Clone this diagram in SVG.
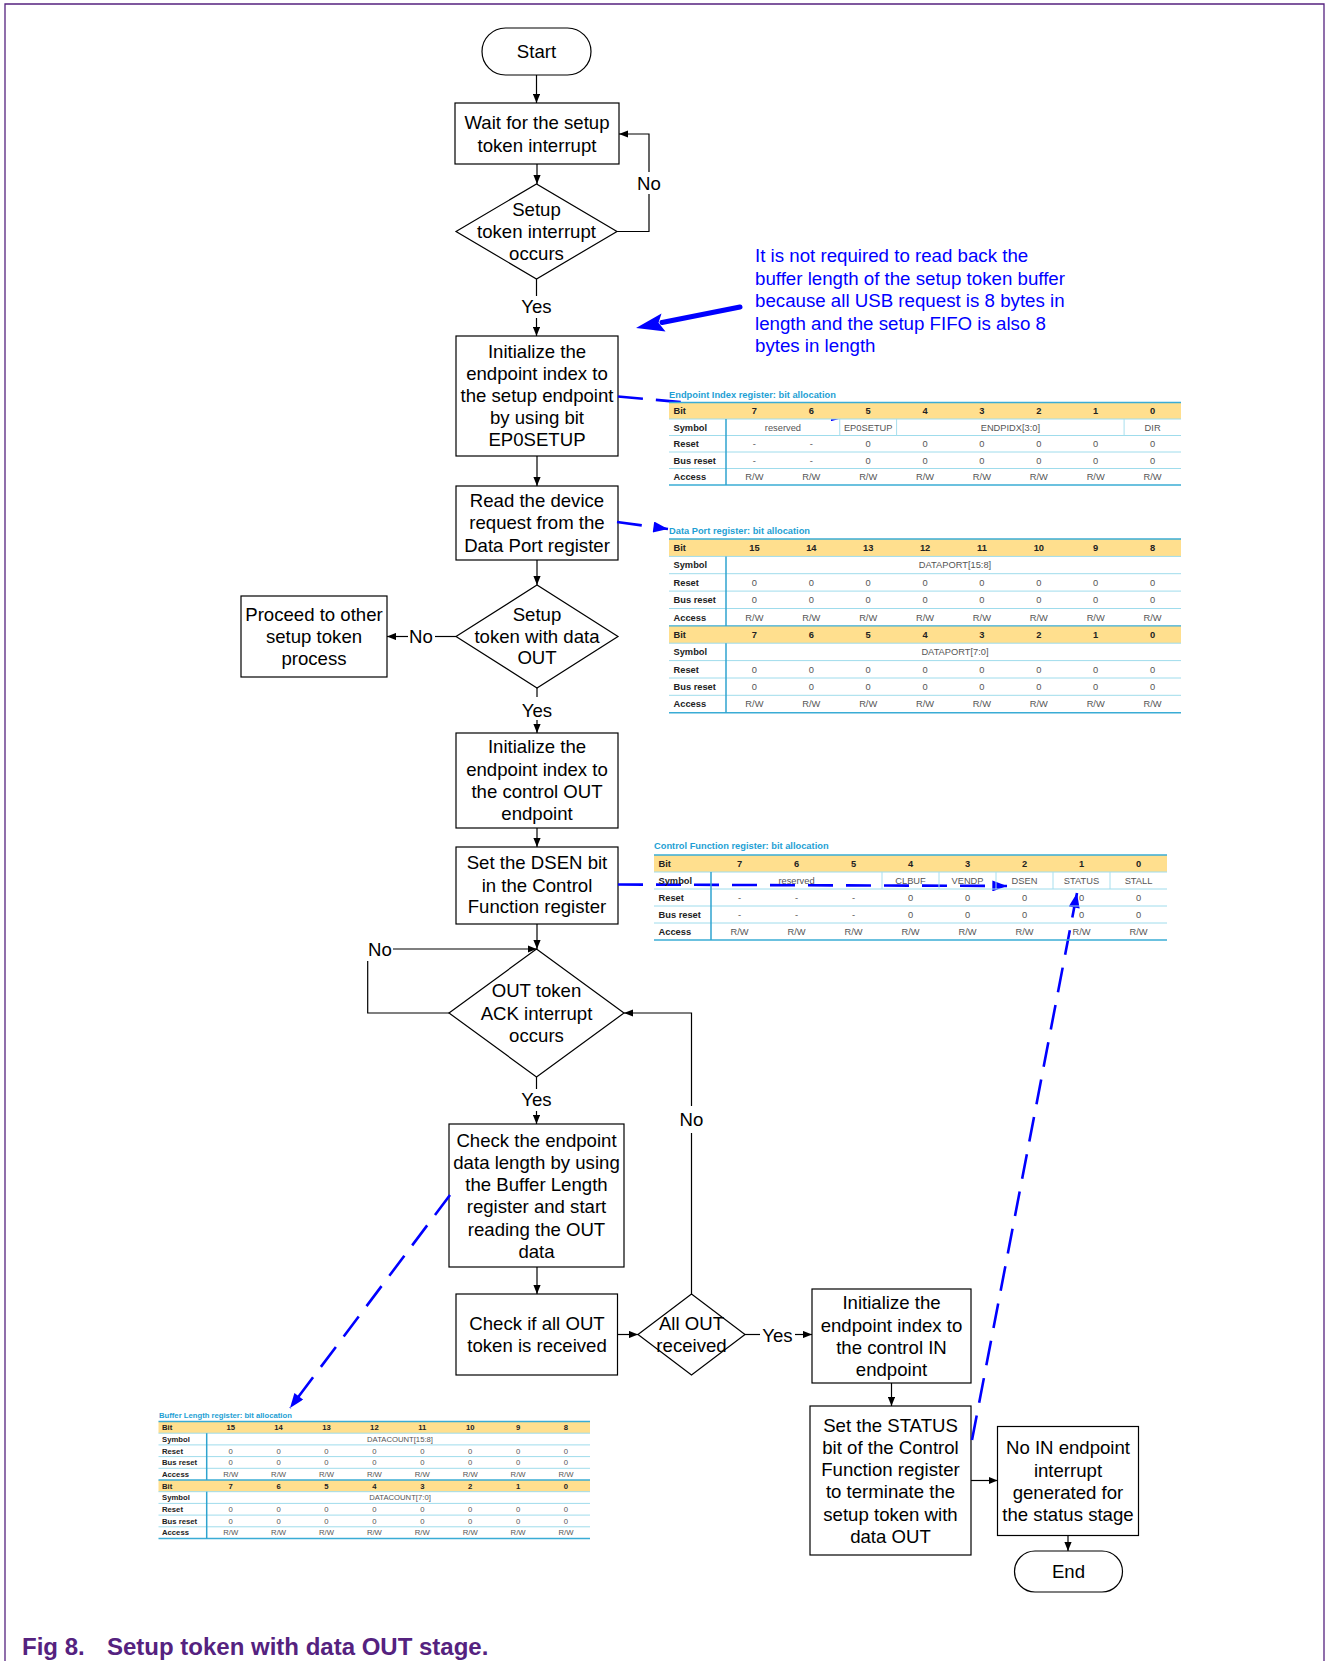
<svg xmlns="http://www.w3.org/2000/svg" width="1327" height="1661" viewBox="0 0 1327 1661">
<style>
  .box { fill:#fff; stroke:#000; stroke-width:1.2; }
  .t { font-family:"Liberation Sans", Arial, sans-serif; font-size:18.6px; text-anchor:middle; fill:#000; }
  .edge { fill:none; stroke:#000; stroke-width:1.2; }
  .bdash { fill:none; stroke:#0000FF; stroke-width:2.6; stroke-dasharray:25 13; }
  .note { font-family:"Liberation Sans", Arial, sans-serif; font-size:18.7px; fill:#0000FF; }
  .cap { font-family:"Liberation Sans", Arial, sans-serif; font-size:24px; font-weight:bold; fill:#55227F; }
  .tt { font-family:"Liberation Sans", Arial, sans-serif; font-size:9.3px; font-weight:bold; fill:#1E9FD4; }
  .tl { font-family:"Liberation Sans", Arial, sans-serif; font-size:9.3px; font-weight:bold; fill:#222; }
  .tb { font-family:"Liberation Sans", Arial, sans-serif; font-size:9.3px; font-weight:bold; fill:#222; text-anchor:middle; }
  .tv { font-family:"Liberation Sans", Arial, sans-serif; font-size:9.3px; fill:#555; text-anchor:middle; }
  .small .tt, .small .tl, .small .tb, .small .tv { font-size:7.7px; }
  .hdr { fill:#FFDF8E; }
  .hl { stroke:#9FDCEC; stroke-width:1; }
  .hd { stroke:#3AACD5; stroke-width:1.4; }
  .vd { stroke:#2FA3CF; stroke-width:1.5; }
  .vs { stroke:#A8DFEE; stroke-width:1; }
</style>
<defs>
  <marker id="arr" viewBox="0 0 10 8" refX="10" refY="4" markerWidth="9" markerHeight="7.2" markerUnits="userSpaceOnUse" orient="auto">
    <path d="M0,0 L10,4 L0,8 z" fill="#000"/>
  </marker>
  <marker id="barr" viewBox="0 0 16 12" refX="16" refY="6" markerWidth="16" markerHeight="11" markerUnits="userSpaceOnUse" orient="auto">
    <path d="M0,0 L16,6 L0,12 z" fill="#0000FF"/>
  </marker>
</defs>

<!-- page frame -->
<path d="M5,1661 V4 H1324 V1661" fill="none" stroke="#55227F" stroke-width="1.3"/>

<!-- flowchart nodes -->
<g id="n-start"><rect class="box" x="482" y="28" width="109" height="47" rx="23.5"/><text class="t" x="536.5" y="58">Start</text></g>
<g id="n-wait"><rect class="box" x="455" y="103" width="164" height="61"/>
  <text class="t" x="537" y="129.4">Wait for the setup</text><text class="t" x="537" y="151.7">token interrupt</text></g>
<g id="n-setup-irq"><polygon class="box" points="456,231.5 536.5,184 617,231.5 536.5,279"/>
  <text class="t" x="536.5" y="216">Setup</text><text class="t" x="536.5" y="237.7">token interrupt</text><text class="t" x="536.5" y="260">occurs</text></g>
<g id="n-init-setup"><rect class="box" x="456" y="336" width="162" height="120"/>
  <text class="t" x="537" y="357.7">Initialize the</text><text class="t" x="537" y="380">endpoint index to</text><text class="t" x="537" y="401.7">the setup endpoint</text><text class="t" x="537" y="424">by using bit</text><text class="t" x="537" y="446">EP0SETUP</text></g>
<g id="n-read"><rect class="box" x="456" y="486" width="162" height="74"/>
  <text class="t" x="537" y="506.7">Read the device</text><text class="t" x="537" y="529.4">request from the</text><text class="t" x="537" y="551.7">Data Port register</text></g>
<g id="n-data-out"><polygon class="box" points="456,636.5 537,585 618,636.5 537,688"/>
  <text class="t" x="537" y="620.7">Setup</text><text class="t" x="537" y="642.7">token with data</text><text class="t" x="537" y="664.3">OUT</text></g>
<g id="n-proceed"><rect class="box" x="241" y="596" width="146" height="81"/>
  <text class="t" x="314" y="620.7">Proceed to other</text><text class="t" x="314" y="642.7">setup token</text><text class="t" x="314" y="665">process</text></g>
<g id="n-init-out"><rect class="box" x="456" y="733" width="162" height="95"/>
  <text class="t" x="537" y="753.4">Initialize the</text><text class="t" x="537" y="775.7">endpoint index to</text><text class="t" x="537" y="797.7">the control OUT</text><text class="t" x="537" y="820">endpoint</text></g>
<g id="n-dsen"><rect class="box" x="456" y="847" width="162" height="77"/>
  <text class="t" x="537" y="869.4">Set the DSEN bit</text><text class="t" x="537" y="891.7">in the Control</text><text class="t" x="537" y="913.4">Function register</text></g>
<g id="n-ack"><polygon class="box" points="449,1013 536.5,949 624,1013 536.5,1077"/>
  <text class="t" x="536.5" y="997">OUT token</text><text class="t" x="536.5" y="1019.5">ACK interrupt</text><text class="t" x="536.5" y="1042">occurs</text></g>
<g id="n-check-len"><rect class="box" x="449" y="1124" width="175" height="143"/>
  <text class="t" x="536.5" y="1146.7">Check the endpoint</text><text class="t" x="536.5" y="1168.9">data length by using</text><text class="t" x="536.5" y="1191.1">the Buffer Length</text><text class="t" x="536.5" y="1213.3">register and start</text><text class="t" x="536.5" y="1235.5">reading the OUT</text><text class="t" x="536.5" y="1257.7">data</text></g>
<g id="n-check-all"><rect class="box" x="456" y="1294" width="161.5" height="81"/>
  <text class="t" x="537" y="1330">Check if all OUT</text><text class="t" x="537" y="1352.2">token is received</text></g>
<g id="n-all-out"><polygon class="box" points="638,1334.5 691.5,1294 745,1334.5 691.5,1375"/>
  <text class="t" x="691.5" y="1330">All OUT</text><text class="t" x="691.5" y="1352.2">received</text></g>
<g id="n-init-in"><rect class="box" x="812" y="1289" width="159" height="94"/>
  <text class="t" x="891.5" y="1309">Initialize the</text><text class="t" x="891.5" y="1331.7">endpoint index to</text><text class="t" x="891.5" y="1353.7">the control IN</text><text class="t" x="891.5" y="1375.7">endpoint</text></g>
<g id="n-status"><rect class="box" x="810" y="1406" width="161" height="149"/>
  <text class="t" x="890.5" y="1431.7">Set the STATUS</text><text class="t" x="890.5" y="1453.9">bit of the Control</text><text class="t" x="890.5" y="1476.1">Function register</text><text class="t" x="890.5" y="1498.3">to terminate the</text><text class="t" x="890.5" y="1520.5">setup token with</text><text class="t" x="890.5" y="1542.7">data OUT</text></g>
<g id="n-no-in"><rect class="box" x="997.5" y="1426.5" width="141" height="109"/>
  <text class="t" x="1068" y="1454.4">No IN endpoint</text><text class="t" x="1068" y="1476.6">interrupt</text><text class="t" x="1068" y="1498.8">generated for</text><text class="t" x="1068" y="1521">the status stage</text></g>
<g id="n-end"><rect class="box" x="1014.5" y="1551" width="108" height="41" rx="20.5"/><text class="t" x="1068.5" y="1578">End</text></g>

<!-- flow connectors -->
<g id="connectors">
  <path class="edge" d="M536.5,75 V103" marker-end="url(#arr)"/>
  <path class="edge" d="M537,164 V184" marker-end="url(#arr)"/>
  <path class="edge" d="M617,231.5 H649 V194"/>
  <path class="edge" d="M649,172 V134 H619" marker-end="url(#arr)"/>
  <text class="t" x="649" y="190">No</text>
  <path class="edge" d="M536.5,279 V296"/>
  <path class="edge" d="M536.5,318 V336" marker-end="url(#arr)"/>
  <text class="t" x="536.5" y="313.4">Yes</text>
  <path class="edge" d="M537,456 V486" marker-end="url(#arr)"/>
  <path class="edge" d="M537,560 V585" marker-end="url(#arr)"/>
  <path class="edge" d="M456,636.5 H435"/>
  <path class="edge" d="M408,636.5 H387" marker-end="url(#arr)"/>
  <text class="t" x="421" y="642.7">No</text>
  <path class="edge" d="M537,688 V697"/>
  <path class="edge" d="M537,720 V733" marker-end="url(#arr)"/>
  <text class="t" x="537" y="716.7">Yes</text>
  <path class="edge" d="M537,828 V847" marker-end="url(#arr)"/>
  <path class="edge" d="M537,924 V949" marker-end="url(#arr)"/>
  <path class="edge" d="M449,1013 H367.7 V961"/>
  <path class="edge" d="M393,949 H536.5" marker-end="url(#arr)"/>
  <text class="t" x="380" y="955.7">No</text>
  <path class="edge" d="M536.5,1077 V1089"/>
  <path class="edge" d="M536.5,1111 V1124" marker-end="url(#arr)"/>
  <text class="t" x="536.5" y="1106">Yes</text>
  <path class="edge" d="M537,1267 V1294" marker-end="url(#arr)"/>
  <path class="edge" d="M617.5,1334.5 H638" marker-end="url(#arr)"/>
  <path class="edge" d="M691.5,1294 V1133"/>
  <path class="edge" d="M691.5,1106 V1013 H624" marker-end="url(#arr)"/>
  <text class="t" x="691.5" y="1126">No</text>
  <path class="edge" d="M745,1334.5 H760"/>
  <path class="edge" d="M795,1334.5 H812" marker-end="url(#arr)"/>
  <text class="t" x="777.5" y="1341.5">Yes</text>
  <path class="edge" d="M891.5,1383 V1406" marker-end="url(#arr)"/>
  <path class="edge" d="M971,1480.5 H997.5" marker-end="url(#arr)"/>
  <path class="edge" d="M1068,1535.5 V1551" marker-end="url(#arr)"/>
</g>

<!-- register references (blue) -->
<g id="reg-links">
  <path class="bdash" d="M618,396.5 L846,417" marker-end="url(#barr)"/>
  <path class="bdash" d="M617,522 L668,529" marker-end="url(#barr)"/>
  <path class="bdash" d="M618,884.5 L1007,886" marker-end="url(#barr)"/>
  <path class="bdash" d="M972,1440 L1077,893" marker-end="url(#barr)"/>
  <path class="bdash" d="M450,1195 L290,1408" marker-end="url(#barr)"/>
  <path d="M740,307 L662,322.5" fill="none" stroke="#0000FF" stroke-width="5" stroke-linecap="round"/>
  <polygon points="636,328 661.5,313.5 658.5,322.8 665.5,331.5" fill="#0000FF"/>
</g>

<!-- note -->
<g id="note">
  <text class="note" x="755" y="262">It is not required to read back the</text>
  <text class="note" x="755" y="284.5">buffer length of the setup token buffer</text>
  <text class="note" x="755" y="307">because all USB request is 8 bytes in</text>
  <text class="note" x="755" y="329.5">length and the setup FIFO is also 8</text>
  <text class="note" x="755" y="352">bytes in length</text>
</g>

<!-- Endpoint Index register -->
<g id="tbl-endpoint-index">
  <text class="tt" x="669" y="397.5">Endpoint Index register: bit allocation</text>
  <rect class="hdr" x="669" y="402.5" width="512" height="16.5"/>
  <line class="hd" x1="669" y1="402.5" x2="1181" y2="402.5"/>
  <line class="hl" x1="669" y1="419" x2="1181" y2="419"/>
  <line class="hl" x1="669" y1="435.5" x2="1181" y2="435.5"/>
  <line class="hl" x1="669" y1="452" x2="1181" y2="452"/>
  <line class="hl" x1="669" y1="468.5" x2="1181" y2="468.5"/>
  <line class="hd" x1="669" y1="485" x2="1181" y2="485"/>
  <line class="vd" x1="726" y1="419" x2="726" y2="485"/>
  <line class="vs" x1="839.75" y1="419" x2="839.75" y2="435.5"/>
  <line class="vs" x1="896.6" y1="419" x2="896.6" y2="435.5"/>
  <line class="vs" x1="1124.1" y1="419" x2="1124.1" y2="435.5"/>
  <text class="tl" x="673.5" y="414.1">Bit</text>
  <text class="tl" x="673.5" y="430.6">Symbol</text>
  <text class="tl" x="673.5" y="447.1">Reset</text>
  <text class="tl" x="673.5" y="463.6">Bus reset</text>
  <text class="tl" x="673.5" y="480.1">Access</text>
  <text class="tb" x="754.4 811.3 868.2 925.1 981.9 1038.8 1095.7 1152.6" y="414.1">76543210</text>
  <text class="tv" x="782.9" y="430.6">reserved</text>
  <text class="tv" x="868.2" y="430.6">EP0SETUP</text>
  <text class="tv" x="1010.4" y="430.6">ENDPIDX[3:0]</text>
  <text class="tv" x="1152.6" y="430.6">DIR</text>
  <text class="tv" x="754.4 811.3 868.2 925.1 981.9 1038.8 1095.7 1152.6" y="447.1">--000000</text>
  <text class="tv" x="754.4 811.3 868.2 925.1 981.9 1038.8 1095.7 1152.6" y="463.6">--000000</text>
  <g class="tv">
    <text class="tv" x="754.4" y="480.1">R/W</text><text class="tv" x="811.3" y="480.1">R/W</text><text class="tv" x="868.2" y="480.1">R/W</text><text class="tv" x="925.1" y="480.1">R/W</text>
    <text class="tv" x="981.9" y="480.1">R/W</text><text class="tv" x="1038.8" y="480.1">R/W</text><text class="tv" x="1095.7" y="480.1">R/W</text><text class="tv" x="1152.6" y="480.1">R/W</text>
  </g>
</g>

<!-- Data Port register -->
<g id="tbl-data-port">
  <text class="tt" x="669" y="533.5">Data Port register: bit allocation</text>
  <rect class="hdr" x="669" y="539" width="512" height="17.4"/>
  <rect class="hdr" x="669" y="625.9" width="512" height="17.3"/>
  <line class="hd" x1="669" y1="539" x2="1181" y2="539"/>
  <line class="hl" x1="669" y1="556.4" x2="1181" y2="556.4"/>
  <line class="hl" x1="669" y1="573.7" x2="1181" y2="573.7"/>
  <line class="hl" x1="669" y1="591.1" x2="1181" y2="591.1"/>
  <line class="hl" x1="669" y1="608.5" x2="1181" y2="608.5"/>
  <line class="hd" x1="669" y1="625.9" x2="1181" y2="625.9"/>
  <line class="hl" x1="669" y1="643.2" x2="1181" y2="643.2"/>
  <line class="hl" x1="669" y1="660.6" x2="1181" y2="660.6"/>
  <line class="hl" x1="669" y1="678" x2="1181" y2="678"/>
  <line class="hl" x1="669" y1="695.3" x2="1181" y2="695.3"/>
  <line class="hd" x1="669" y1="712.7" x2="1181" y2="712.7"/>
  <line class="vd" x1="726" y1="556.4" x2="726" y2="625.9"/>
  <line class="vd" x1="726" y1="643.2" x2="726" y2="712.7"/>
  <text class="tl" x="673.5" y="551">Bit</text>
  <text class="tl" x="673.5" y="568.4">Symbol</text>
  <text class="tl" x="673.5" y="585.7">Reset</text>
  <text class="tl" x="673.5" y="603.1">Bus reset</text>
  <text class="tl" x="673.5" y="620.5">Access</text>
  <text class="tl" x="673.5" y="637.9">Bit</text>
  <text class="tl" x="673.5" y="655.2">Symbol</text>
  <text class="tl" x="673.5" y="672.6">Reset</text>
  <text class="tl" x="673.5" y="690">Bus reset</text>
  <text class="tl" x="673.5" y="707.3">Access</text>
  <text class="tb" x="754.4" y="551">15</text><text class="tb" x="811.3" y="551">14</text><text class="tb" x="868.2" y="551">13</text><text class="tb" x="925.1" y="551">12</text>
  <text class="tb" x="981.9" y="551">11</text><text class="tb" x="1038.8" y="551">10</text><text class="tb" x="1095.7" y="551">9</text><text class="tb" x="1152.6" y="551">8</text>
  <text class="tv" x="955" y="568.4">DATAPORT[15:8]</text>
  <text class="tv" x="754.4 811.3 868.2 925.1 981.9 1038.8 1095.7 1152.6" y="585.7">00000000</text>
  <text class="tv" x="754.4 811.3 868.2 925.1 981.9 1038.8 1095.7 1152.6" y="603.1">00000000</text>
  <text class="tv" x="754.4" y="620.5">R/W</text><text class="tv" x="811.3" y="620.5">R/W</text><text class="tv" x="868.2" y="620.5">R/W</text><text class="tv" x="925.1" y="620.5">R/W</text>
  <text class="tv" x="981.9" y="620.5">R/W</text><text class="tv" x="1038.8" y="620.5">R/W</text><text class="tv" x="1095.7" y="620.5">R/W</text><text class="tv" x="1152.6" y="620.5">R/W</text>
  <text class="tb" x="754.4 811.3 868.2 925.1 981.9 1038.8 1095.7 1152.6" y="637.9">76543210</text>
  <text class="tv" x="955" y="655.2">DATAPORT[7:0]</text>
  <text class="tv" x="754.4 811.3 868.2 925.1 981.9 1038.8 1095.7 1152.6" y="672.6">00000000</text>
  <text class="tv" x="754.4 811.3 868.2 925.1 981.9 1038.8 1095.7 1152.6" y="690">00000000</text>
  <text class="tv" x="754.4" y="707.3">R/W</text><text class="tv" x="811.3" y="707.3">R/W</text><text class="tv" x="868.2" y="707.3">R/W</text><text class="tv" x="925.1" y="707.3">R/W</text>
  <text class="tv" x="981.9" y="707.3">R/W</text><text class="tv" x="1038.8" y="707.3">R/W</text><text class="tv" x="1095.7" y="707.3">R/W</text><text class="tv" x="1152.6" y="707.3">R/W</text>
</g>

<!-- Control Function register -->
<g id="tbl-control-function">
  <text class="tt" x="654" y="849">Control Function register: bit allocation</text>
  <rect class="hdr" x="654" y="855" width="513" height="17"/>
  <line class="hd" x1="654" y1="855" x2="1167" y2="855"/>
  <line class="hl" x1="654" y1="872" x2="1167" y2="872"/>
  <line class="hl" x1="654" y1="889" x2="1167" y2="889"/>
  <line class="hl" x1="654" y1="906" x2="1167" y2="906"/>
  <line class="hl" x1="654" y1="923" x2="1167" y2="923"/>
  <line class="hd" x1="654" y1="940" x2="1167" y2="940"/>
  <line class="vd" x1="711" y1="872" x2="711" y2="940"/>
  <line class="vs" x1="882" y1="872" x2="882" y2="889"/>
  <line class="vs" x1="939" y1="872" x2="939" y2="889"/>
  <line class="vs" x1="996" y1="872" x2="996" y2="889"/>
  <line class="vs" x1="1053" y1="872" x2="1053" y2="889"/>
  <line class="vs" x1="1110" y1="872" x2="1110" y2="889"/>
  <text class="tl" x="658.5" y="866.8">Bit</text>
  <text class="tl" x="658.5" y="883.8">Symbol</text>
  <text class="tl" x="658.5" y="900.8">Reset</text>
  <text class="tl" x="658.5" y="917.8">Bus reset</text>
  <text class="tl" x="658.5" y="934.8">Access</text>
  <text class="tb" x="739.5 796.5 853.5 910.5 967.5 1024.5 1081.5 1138.5" y="866.8">76543210</text>
  <text class="tv" x="796.5" y="883.8">reserved</text>
  <text class="tv" x="910.5" y="883.8">CLBUF</text>
  <text class="tv" x="967.5" y="883.8">VENDP</text>
  <text class="tv" x="1024.5" y="883.8">DSEN</text>
  <text class="tv" x="1081.5" y="883.8">STATUS</text>
  <text class="tv" x="1138.5" y="883.8">STALL</text>
  <text class="tv" x="739.5 796.5 853.5 910.5 967.5 1024.5 1081.5 1138.5" y="900.8">---00000</text>
  <text class="tv" x="739.5 796.5 853.5 910.5 967.5 1024.5 1081.5 1138.5" y="917.8">---00000</text>
  <text class="tv" x="739.5" y="934.8">R/W</text><text class="tv" x="796.5" y="934.8">R/W</text><text class="tv" x="853.5" y="934.8">R/W</text><text class="tv" x="910.5" y="934.8">R/W</text>
  <text class="tv" x="967.5" y="934.8">R/W</text><text class="tv" x="1024.5" y="934.8">R/W</text><text class="tv" x="1081.5" y="934.8">R/W</text><text class="tv" x="1138.5" y="934.8">R/W</text>
</g>

<!-- Buffer Length register -->
<g id="tbl-buffer-length" class="small">
  <text class="tt" x="159" y="1418">Buffer Length register: bit allocation</text>
  <rect class="hdr" x="158.5" y="1421.5" width="431.5" height="11.7"/>
  <rect class="hdr" x="158.5" y="1480" width="431.5" height="11.7"/>
  <line class="hd" x1="158.5" y1="1421.5" x2="590" y2="1421.5"/>
  <line class="hl" x1="158.5" y1="1433.2" x2="590" y2="1433.2"/>
  <line class="hl" x1="158.5" y1="1444.9" x2="590" y2="1444.9"/>
  <line class="hl" x1="158.5" y1="1456.6" x2="590" y2="1456.6"/>
  <line class="hl" x1="158.5" y1="1468.3" x2="590" y2="1468.3"/>
  <line class="hd" x1="158.5" y1="1480" x2="590" y2="1480"/>
  <line class="hl" x1="158.5" y1="1491.7" x2="590" y2="1491.7"/>
  <line class="hl" x1="158.5" y1="1503.4" x2="590" y2="1503.4"/>
  <line class="hl" x1="158.5" y1="1515.1" x2="590" y2="1515.1"/>
  <line class="hl" x1="158.5" y1="1526.8" x2="590" y2="1526.8"/>
  <line class="hd" x1="158.5" y1="1538.5" x2="590" y2="1538.5"/>
  <line class="vd" x1="206.7" y1="1433.2" x2="206.7" y2="1480"/>
  <line class="vd" x1="206.7" y1="1491.7" x2="206.7" y2="1538.5"/>
  <text class="tl" x="162" y="1430.1">Bit</text>
  <text class="tl" x="162" y="1441.8">Symbol</text>
  <text class="tl" x="162" y="1453.5">Reset</text>
  <text class="tl" x="162" y="1465.2">Bus reset</text>
  <text class="tl" x="162" y="1476.9">Access</text>
  <text class="tl" x="162" y="1488.6">Bit</text>
  <text class="tl" x="162" y="1500.3">Symbol</text>
  <text class="tl" x="162" y="1512">Reset</text>
  <text class="tl" x="162" y="1523.7">Bus reset</text>
  <text class="tl" x="162" y="1535.4">Access</text>
  <text class="tb" x="230.7" y="1430.1">15</text><text class="tb" x="278.6" y="1430.1">14</text><text class="tb" x="326.5" y="1430.1">13</text><text class="tb" x="374.4" y="1430.1">12</text>
  <text class="tb" x="422.3" y="1430.1">11</text><text class="tb" x="470.2" y="1430.1">10</text><text class="tb" x="518.1" y="1430.1">9</text><text class="tb" x="566" y="1430.1">8</text>
  <text class="tv" x="400" y="1441.8">DATACOUNT[15:8]</text>
  <text class="tv" x="230.7 278.6 326.5 374.4 422.3 470.2 518.1 566" y="1453.5">00000000</text>
  <text class="tv" x="230.7 278.6 326.5 374.4 422.3 470.2 518.1 566" y="1465.2">00000000</text>
  <text class="tv" x="230.7" y="1476.9">R/W</text><text class="tv" x="278.6" y="1476.9">R/W</text><text class="tv" x="326.5" y="1476.9">R/W</text><text class="tv" x="374.4" y="1476.9">R/W</text>
  <text class="tv" x="422.3" y="1476.9">R/W</text><text class="tv" x="470.2" y="1476.9">R/W</text><text class="tv" x="518.1" y="1476.9">R/W</text><text class="tv" x="566" y="1476.9">R/W</text>
  <text class="tb" x="230.7 278.6 326.5 374.4 422.3 470.2 518.1 566" y="1488.6">76543210</text>
  <text class="tv" x="400" y="1500.3">DATACOUNT[7:0]</text>
  <text class="tv" x="230.7 278.6 326.5 374.4 422.3 470.2 518.1 566" y="1512">00000000</text>
  <text class="tv" x="230.7 278.6 326.5 374.4 422.3 470.2 518.1 566" y="1523.7">00000000</text>
  <text class="tv" x="230.7" y="1535.4">R/W</text><text class="tv" x="278.6" y="1535.4">R/W</text><text class="tv" x="326.5" y="1535.4">R/W</text><text class="tv" x="374.4" y="1535.4">R/W</text>
  <text class="tv" x="422.3" y="1535.4">R/W</text><text class="tv" x="470.2" y="1535.4">R/W</text><text class="tv" x="518.1" y="1535.4">R/W</text><text class="tv" x="566" y="1535.4">R/W</text>
</g>

<!-- caption -->
<text class="cap" x="22" y="1655">Fig 8.</text>
<text class="cap" x="107" y="1655">Setup token with data OUT stage.</text>
</svg>
